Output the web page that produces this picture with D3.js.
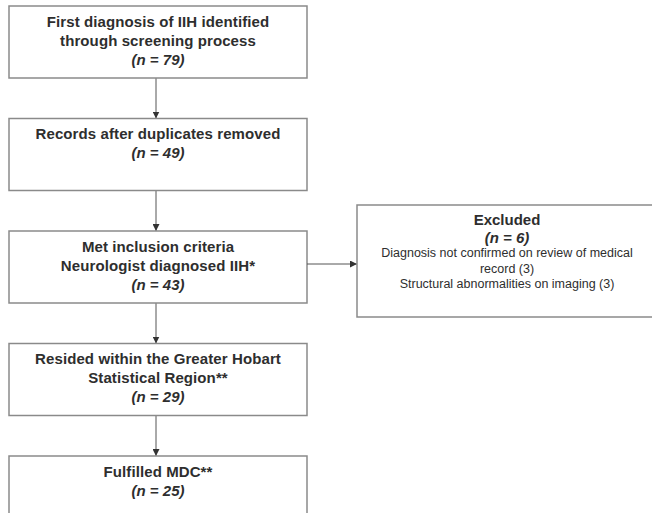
<!DOCTYPE html>
<html><head><meta charset="utf-8">
<script src="https://cdn.jsdelivr.net/npm/d3@7"></script>
<style>html,body{margin:0;padding:0;background:#fff;}svg{display:block;}</style>
</head><body>
<svg id="chart" width="652" height="513"></svg>
<script>
const stageTitles = [
  ["First diagnosis of IIH identified", "through screening process"],
  ["Records after duplicates removed"],
  ["Met inclusion criteria", "Neurologist diagnosed IIH*"],
  ["Resided within the Greater Hobart", "Statistical Region**"],
  ["Fulfilled MDC**"]
];
const stageCounts = [79, 49, 43, 29, 25];
const excludedTitle = "Excluded";
const excludedCount = 6;
const excludedReasons = [
  "Diagnosis not confirmed on review of medical",
  "record (3)",
  "Structural abnormalities on imaging (3)"
];

const svg = d3.select("#chart");
const fontFam = "'Liberation Sans', Arial, sans-serif";
const boxStroke = "#8a8a8a";
const txtCol = "#2e2e2e";

const yTop = d3.scaleLinear().domain([0, 4]).range([6, 456]);
const boxH = 72;
const xL = 9, xR = 307, cx = 158, ax = 156;

svg.append("defs").append("marker")
  .attr("id", "ah").attr("viewBox", "0 0 10 10")
  .attr("refX", 10).attr("refY", 5)
  .attr("markerWidth", 7).attr("markerHeight", 7)
  .attr("markerUnits", "userSpaceOnUse")
  .attr("orient", "auto")
  .append("path").attr("d", "M0,0L10,5L0,10Z").attr("fill", "#333");

d3.range(stageCounts.length - 1).forEach(i => {
  svg.append("line")
    .attr("x1", ax).attr("x2", ax)
    .attr("y1", yTop(i) + boxH).attr("y2", yTop(i + 1))
    .attr("stroke", "#555").attr("stroke-width", 1)
    .attr("marker-end", "url(#ah)");
});

const g = svg.selectAll("g.stage").data(stageCounts).join("g").attr("class", "stage");
g.append("rect")
  .attr("x", xL).attr("y", (d, i) => yTop(i))
  .attr("width", xR - xL).attr("height", boxH)
  .attr("fill", "#fff").attr("stroke", boxStroke).attr("stroke-width", 1.5);

g.each(function (d, i) {
  const sel = d3.select(this);
  const lines = stageTitles[i];
  const y0 = yTop(i) + 15;
  lines.forEach((t, k) => {
    sel.append("text")
      .attr("x", cx).attr("y", y0 + k * 19)
      .attr("text-anchor", "middle").attr("dominant-baseline", "central")
      .attr("font-family", fontFam).attr("font-weight", "bold")
      .attr("font-size", 15).attr("letter-spacing", 0.1).attr("fill", txtCol)
      .text(t);
  });
  sel.append("text")
    .attr("x", cx).attr("y", y0 + lines.length * 19)
    .attr("text-anchor", "middle").attr("dominant-baseline", "central")
    .attr("font-family", fontFam).attr("font-weight", "bold")
    .attr("font-style", "italic").attr("font-size", 15).attr("fill", txtCol)
    .text("(n = " + d + ")");
});

const exX = 357, exY = 205, exW = 300, exH = 112;
const exCx = 507;
const arrowY = yTop(2) + 33;
svg.append("line")
  .attr("x1", xR).attr("x2", exX).attr("y1", arrowY).attr("y2", arrowY)
  .attr("stroke", "#555").attr("stroke-width", 1).attr("marker-end", "url(#ah)");
svg.append("rect")
  .attr("x", exX).attr("y", exY).attr("width", exW).attr("height", exH)
  .attr("fill", "#fff").attr("stroke", boxStroke).attr("stroke-width", 1.5);
svg.append("text")
  .attr("x", exCx).attr("y", exY + 14)
  .attr("text-anchor", "middle").attr("dominant-baseline", "central")
  .attr("font-family", fontFam).attr("font-weight", "bold")
  .attr("font-size", 15).attr("fill", txtCol).text(excludedTitle);
svg.append("text")
  .attr("x", exCx).attr("y", exY + 32)
  .attr("text-anchor", "middle").attr("dominant-baseline", "central")
  .attr("font-family", fontFam).attr("font-weight", "bold").attr("font-style", "italic")
  .attr("font-size", 15).attr("fill", txtCol).text("(n = " + excludedCount + ")");
excludedReasons.forEach((r, k) => {
  svg.append("text")
    .attr("x", exCx).attr("y", exY + 48 + k * 15.5)
    .attr("text-anchor", "middle").attr("dominant-baseline", "central")
    .attr("font-family", fontFam)
    .attr("font-size", 12.5).attr("fill", txtCol).text(r);
});
</script>
</body></html>
